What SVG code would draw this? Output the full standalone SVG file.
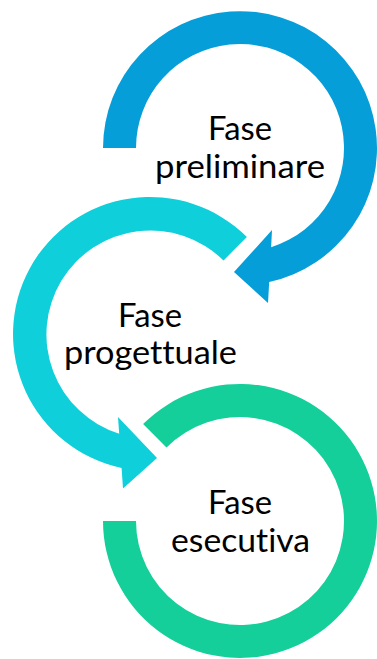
<svg xmlns="http://www.w3.org/2000/svg" width="377" height="659" viewBox="0 0 377 659">
<style>
.lbl{font-family:Lato,"Open Sans","Liberation Sans",sans-serif;font-size:32.5px;fill:#000;font-variant-ligatures:none;font-feature-settings:"liga" 0,"clig" 0}
</style>
<rect width="377" height="659" fill="#fff"/>
<g id="connectors"></g>
<g id="node3">
<path d="M103,521 A137,137 0 1 0 143.1,424.1 L166.5,447.5 A104,104 0 1 1 136,521 Z" fill="#14CF99"/>
<text class="lbl" x="208" y="514" textLength="64" lengthAdjust="spacingAndGlyphs">Fase</text>
<text class="lbl" x="171" y="552" textLength="139" lengthAdjust="spacingAndGlyphs">esecutiva</text>
</g>
<g id="node2">
<path d="M246.9,237.1 A137,137 0 1 0 121.6,468 L123,488.5 L157,458 L118,417 L119.2,433.7 A104,104 0 1 1 223.5,260.5 Z" fill="#0ECFDA"/>
<text class="lbl" x="118" y="327" textLength="64" lengthAdjust="spacingAndGlyphs">Fase</text>
<text class="lbl" x="64" y="364" textLength="173" lengthAdjust="spacingAndGlyphs">progettuale</text>
</g>
<g id="node1">
<path d="M103,148 A137,137 0 1 1 269.2,282 L268,303 L234,272 L272,230 L271.1,247.2 A104,104 0 1 0 136,148 Z" fill="#059ED8"/>
<text class="lbl" x="208" y="140" textLength="64" lengthAdjust="spacingAndGlyphs">Fase</text>
<text class="lbl" x="155" y="178" textLength="170" lengthAdjust="spacingAndGlyphs">preliminare</text>
</g>
</svg>
